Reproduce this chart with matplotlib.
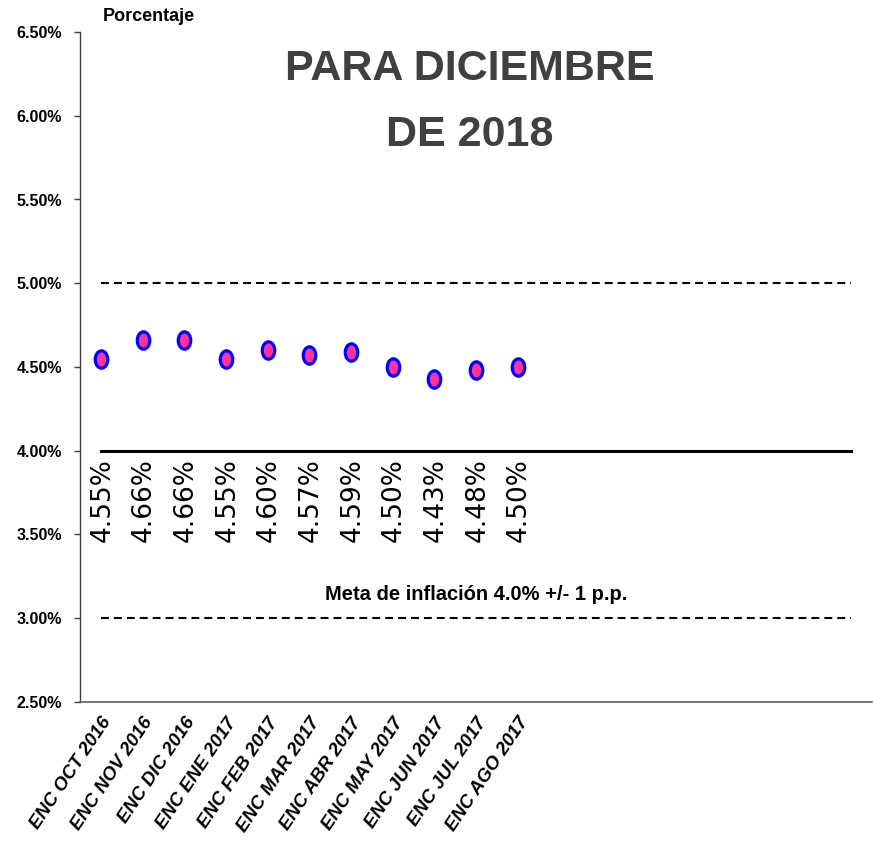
import numpy as np
import matplotlib
matplotlib.use("Agg")
import matplotlib.pyplot as plt
from matplotlib.path import Path
from matplotlib.ticker import FuncFormatter, MultipleLocator

# survey dates (ENC = encuesta) and expected inflation for Dec 2018
encuestas = ["ENC OCT 2016", "ENC NOV 2016", "ENC DIC 2016", "ENC ENE 2017",
             "ENC FEB 2017", "ENC MAR 2017", "ENC ABR 2017", "ENC MAY 2017",
             "ENC JUN 2017", "ENC JUL 2017", "ENC AGO 2017"]
expectativa = [4.55, 4.66, 4.66, 4.55, 4.60, 4.57, 4.59, 4.50, 4.43, 4.48, 4.50]

# the chart keeps room for 19 surveys; target band drawn across all of them
n_slots = 19
meta_central = [4.0] * n_slots
meta_sup = [5.0] * n_slots
meta_inf = [3.0] * n_slots

sans = ["Liberation Sans", "DejaVu Sans"]

fig = plt.figure(figsize=(8.73, 8.47), dpi=100)
ax = fig.add_axes([80 / 873, 1 - 702 / 847, 792 / 873, 670 / 847])

slots = np.arange(n_slots)
ax.plot(slots, meta_sup, color="black", lw=1.5, dashes=(3.8, 2.4), zorder=2)
ax.plot(slots, meta_inf, color="black", lw=1.5, dashes=(3.8, 2.4), zorder=2)
ax.plot(slots, meta_central, color="black", lw=2.2, zorder=2)

# slightly tall ellipse marker like in the original
circ = Path.unit_circle()
ellipse = Path(circ.vertices * np.array([0.72, 1.0]), circ.codes)

x = np.arange(len(encuestas))
ax.plot(x, expectativa, ls="none", marker=ellipse, ms=12.5,
        mfc="#FF3399", mec="#0000FF", mew=2.3, zorder=3)

for xi, v in zip(x, expectativa):
    ax.annotate(f"{v:.2f}%", xy=(xi, 4.0), xytext=(1, -5),
                textcoords="offset points", rotation=90,
                ha="center", va="top", fontsize=19,
                family="DejaVu Sans", color="black")

ax.text(9.0, 3.11, "Meta de inflación 4.0% +/- 1 p.p.", ha="center",
        va="baseline", fontsize=14.5, fontweight="bold", family=sans)

ax.set_xlim(-0.5, n_slots - 0.5)
ax.set_ylim(2.5, 6.5)
ax.yaxis.set_major_locator(MultipleLocator(0.5))
ax.yaxis.set_major_formatter(FuncFormatter(lambda v, p: f"{v:.2f}%"))
ax.set_xticks(x)
ax.set_xticklabels(encuestas, rotation=56, ha="right", va="top",
                   rotation_mode="anchor", fontsize=13.5, fontweight="bold",
                   fontstyle="italic", family=sans)
ax.tick_params(axis="x", length=0, pad=9)
ax.tick_params(axis="y", length=4, width=1, direction="out", pad=9,
               color="#404040")
for lab in ax.get_yticklabels():
    lab.set_fontsize(11.5)
    lab.set_fontweight("bold")
    lab.set_family(sans)

for s in ["top", "right"]:
    ax.spines[s].set_visible(False)
ax.spines["left"].set_color("#404040")
ax.spines["bottom"].set_color("#606060")
ax.spines["left"].set_linewidth(1)
ax.spines["bottom"].set_linewidth(1.2)

fig.text(103 / 873, 1 - 8 / 847, "Porcentaje", ha="left", va="top",
         fontsize=13, fontweight="bold", family=sans)
fig.text(470 / 873, 1 - 49 / 847, "PARA DICIEMBRE\nDE 2018", ha="center",
         va="top", fontsize=31, fontweight="bold", color="#404040",
         family=sans, linespacing=1.85)

fig.savefig("out.png", dpi=100)
